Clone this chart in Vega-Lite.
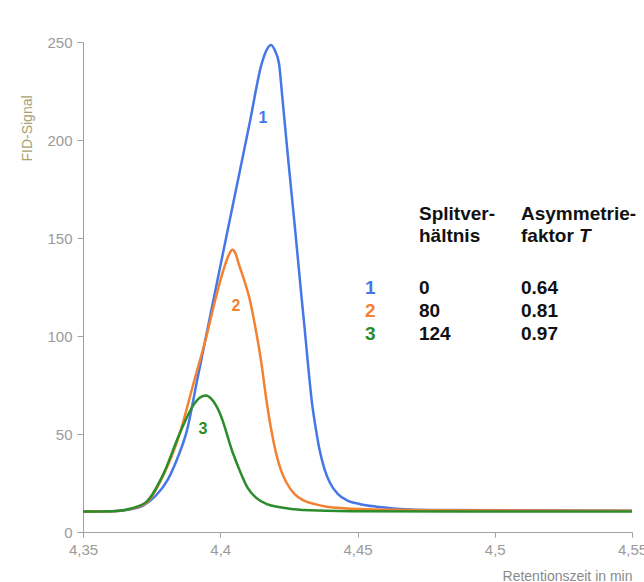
{
  "$schema": "https://vega.github.io/schema/vega-lite/v6.json",
  "width": 549,
  "height": 490,
  "autosize": {"type": "none"},
  "padding": {"left": 83, "top": 42, "right": 12, "bottom": 50},
  "background": "white",
  "config": {
    "view": {"stroke": null},
    "font": "Liberation Sans",
    "axis": {
      "grid": false,
      "domainColor": "#a0a0a0",
      "tickColor": "#a0a0a0",
      "labelColor": "#9a9a9a",
      "labelFont": "Liberation Sans",
      "labelFontSize": 15,
      "titleFont": "Liberation Sans",
      "titleFontWeight": "normal"
    }
  },
  "datasets": {
    "curves": [
      {"series": "1", "t": 4.35, "v": 10.5},
      {"series": "1", "t": 4.3609, "v": 10.6},
      {"series": "1", "t": 4.367, "v": 11.5},
      {"series": "1", "t": 4.3719, "v": 13.5},
      {"series": "1", "t": 4.3765, "v": 18.5},
      {"series": "1", "t": 4.381, "v": 27},
      {"series": "1", "t": 4.3845, "v": 38},
      {"series": "1", "t": 4.3879, "v": 52},
      {"series": "1", "t": 4.3916, "v": 77.6},
      {"series": "1", "t": 4.3953, "v": 103},
      {"series": "1", "t": 4.3992, "v": 130},
      {"series": "1", "t": 4.4027, "v": 154},
      {"series": "1", "t": 4.4077, "v": 188},
      {"series": "1", "t": 4.4109, "v": 210},
      {"series": "1", "t": 4.4151, "v": 239},
      {"series": "1", "t": 4.4171, "v": 246.5},
      {"series": "1", "t": 4.4185, "v": 248.5},
      {"series": "1", "t": 4.4198, "v": 246},
      {"series": "1", "t": 4.4214, "v": 239},
      {"series": "1", "t": 4.4226, "v": 222},
      {"series": "1", "t": 4.4249, "v": 188},
      {"series": "1", "t": 4.4273, "v": 154},
      {"series": "1", "t": 4.4296, "v": 120},
      {"series": "1", "t": 4.4308, "v": 103},
      {"series": "1", "t": 4.432, "v": 85},
      {"series": "1", "t": 4.4333, "v": 67.3},
      {"series": "1", "t": 4.4349, "v": 52},
      {"series": "1", "t": 4.4362, "v": 41.8},
      {"series": "1", "t": 4.438, "v": 32},
      {"series": "1", "t": 4.44, "v": 25},
      {"series": "1", "t": 4.4428, "v": 19.5},
      {"series": "1", "t": 4.446, "v": 16.3},
      {"series": "1", "t": 4.451, "v": 14.2},
      {"series": "1", "t": 4.457, "v": 12.9},
      {"series": "1", "t": 4.4655, "v": 11.8},
      {"series": "1", "t": 4.4764, "v": 11.2},
      {"series": "1", "t": 4.55, "v": 10.8},
      {"series": "2", "t": 4.35, "v": 10.5},
      {"series": "2", "t": 4.3609, "v": 10.6},
      {"series": "2", "t": 4.3675, "v": 11.8},
      {"series": "2", "t": 4.3732, "v": 15},
      {"series": "2", "t": 4.3791, "v": 28.5},
      {"series": "2", "t": 4.3853, "v": 50.5},
      {"series": "2", "t": 4.3901, "v": 75},
      {"series": "2", "t": 4.395, "v": 100},
      {"series": "2", "t": 4.3981, "v": 118},
      {"series": "2", "t": 4.401, "v": 133},
      {"series": "2", "t": 4.403, "v": 141},
      {"series": "2", "t": 4.4044, "v": 144},
      {"series": "2", "t": 4.4056, "v": 142},
      {"series": "2", "t": 4.4068, "v": 136.5},
      {"series": "2", "t": 4.4086, "v": 129},
      {"series": "2", "t": 4.4105, "v": 120},
      {"series": "2", "t": 4.4131, "v": 102},
      {"series": "2", "t": 4.415, "v": 86},
      {"series": "2", "t": 4.4168, "v": 67.5},
      {"series": "2", "t": 4.4186, "v": 52},
      {"series": "2", "t": 4.4202, "v": 41},
      {"series": "2", "t": 4.422, "v": 32},
      {"series": "2", "t": 4.4242, "v": 25},
      {"series": "2", "t": 4.427, "v": 19.5},
      {"series": "2", "t": 4.4301, "v": 16.3},
      {"series": "2", "t": 4.4345, "v": 14.2},
      {"series": "2", "t": 4.4388, "v": 12.9},
      {"series": "2", "t": 4.4509, "v": 11.7},
      {"series": "2", "t": 4.4753, "v": 11.1},
      {"series": "2", "t": 4.55, "v": 10.8},
      {"series": "3", "t": 4.35, "v": 10.4},
      {"series": "3", "t": 4.3609, "v": 10.6},
      {"series": "3", "t": 4.3675, "v": 12},
      {"series": "3", "t": 4.3732, "v": 15.5},
      {"series": "3", "t": 4.3791, "v": 29},
      {"series": "3", "t": 4.3853, "v": 50.5},
      {"series": "3", "t": 4.3901, "v": 64.5},
      {"series": "3", "t": 4.3925, "v": 68.5},
      {"series": "3", "t": 4.3948, "v": 69.6},
      {"series": "3", "t": 4.397, "v": 67.5},
      {"series": "3", "t": 4.3999, "v": 60.5},
      {"series": "3", "t": 4.4046, "v": 40.3},
      {"series": "3", "t": 4.4075, "v": 30},
      {"series": "3", "t": 4.41, "v": 22.5},
      {"series": "3", "t": 4.413, "v": 17.5},
      {"series": "3", "t": 4.417, "v": 14.2},
      {"series": "3", "t": 4.4218, "v": 12.6},
      {"series": "3", "t": 4.4301, "v": 11.2},
      {"series": "3", "t": 4.4473, "v": 10.6},
      {"series": "3", "t": 4.55, "v": 10.4}
    ],
    "curveLabels": [
      {"series": "1", "t": 4.41557, "v": 211.2},
      {"series": "2", "t": 4.40574, "v": 115.3},
      {"series": "3", "t": 4.39372, "v": 52.6}
    ],
    "tableHeader": [
      {"label": "Splitver-", "t": 4.4724, "v": 159.2},
      {"label": "hältnis", "t": 4.4724, "v": 148.0},
      {"label": "Asymmetrie-", "t": 4.50956, "v": 159.2},
      {"label": "faktor", "t": 4.50956, "v": 148.0},
      {"label": "0", "t": 4.4724, "v": 121.4},
      {"label": "80", "t": 4.4724, "v": 109.7},
      {"label": "124", "t": 4.4724, "v": 98.0},
      {"label": "0.64", "t": 4.50956, "v": 121.4},
      {"label": "0.81", "t": 4.50956, "v": 109.7},
      {"label": "0.97", "t": 4.50956, "v": 98.0}
    ],
    "tableRows": [
      {"series": "1", "t": 4.45273, "v": 121.4},
      {"series": "2", "t": 4.45273, "v": 109.7},
      {"series": "3", "t": 4.45273, "v": 98.0}
    ],
    "italicT": [
      {"label": "T", "t": 4.50956, "v": 148.0}
    ]
  },
  "layer": [
    {
      "data": {"name": "curves"},
      "mark": {"type": "line", "strokeWidth": 2.5, "interpolate": "monotone"},
      "encoding": {
        "x": {
          "field": "t", "type": "quantitative",
          "scale": {"domain": [4.35, 4.55], "nice": false, "zero": false},
          "axis": {
            "values": [4.35, 4.4, 4.45, 4.5, 4.55],
            "labelExpr": "replace(format(datum.value, '.2~f'), '.', ',')",
            "tickSize": 5,
            "labelPadding": 5,
            "labelFlush": false,
            "title": "Retentionszeit in min",
            "titleColor": "#8a8a8a",
            "titleFontSize": 14,
            "titleAnchor": "end",
            "titleAlign": "right",
            "titleX": 549,
            "titleY": 44,
            "titleBaseline": "middle"
          }
        },
        "y": {
          "field": "v", "type": "quantitative",
          "scale": {"domain": [0, 250], "nice": false},
          "axis": {
            "values": [0, 50, 100, 150, 200, 250],
            "tickSize": 6,
            "labelPadding": 5,
            "title": "FID-Signal",
            "titleColor": "#a8a070",
            "titleFontSize": 14,
            "titleAngle": 270,
            "titleAlign": "center",
            "titleBaseline": "middle",
            "titleX": -56,
            "titleY": 86
          }
        },
        "color": {
          "field": "series", "type": "nominal",
          "scale": {"domain": ["1", "2", "3"], "range": ["#4577e6", "#f28131", "#2a8c2a"]},
          "legend": null
        }
      }
    },
    {
      "data": {"name": "curveLabels"},
      "mark": {"type": "text", "fontSize": 16, "fontWeight": "bold", "align": "center", "baseline": "middle"},
      "encoding": {
        "x": {"field": "t", "type": "quantitative"},
        "y": {"field": "v", "type": "quantitative"},
        "text": {"field": "series"},
        "color": {"field": "series", "type": "nominal", "legend": null}
      }
    },
    {
      "data": {"name": "tableHeader"},
      "mark": {"type": "text", "fontSize": 19, "fontWeight": "bold", "align": "left", "baseline": "alphabetic", "color": "#111111"},
      "encoding": {
        "x": {"field": "t", "type": "quantitative"},
        "y": {"field": "v", "type": "quantitative"},
        "text": {"field": "label"}
      }
    },
    {
      "data": {"name": "tableRows"},
      "mark": {"type": "text", "fontSize": 19, "fontWeight": "bold", "align": "left", "baseline": "alphabetic"},
      "encoding": {
        "x": {"field": "t", "type": "quantitative"},
        "y": {"field": "v", "type": "quantitative"},
        "text": {"field": "series"},
        "color": {"field": "series", "type": "nominal", "legend": null}
      }
    },
    {
      "data": {"name": "italicT"},
      "mark": {"type": "text", "fontSize": 19, "fontWeight": "bold", "fontStyle": "italic", "align": "left", "baseline": "alphabetic", "color": "#111111", "dx": 58},
      "encoding": {
        "x": {"field": "t", "type": "quantitative"},
        "y": {"field": "v", "type": "quantitative"},
        "text": {"field": "label"}
      }
    }
  ]
}
